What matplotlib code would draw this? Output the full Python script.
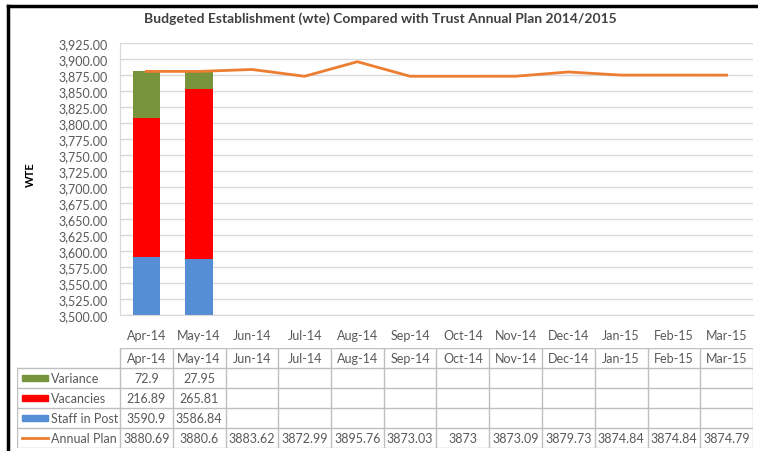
import matplotlib
matplotlib.use("Agg")
import matplotlib.pyplot as plt
from matplotlib.lines import Line2D
from matplotlib.patches import Rectangle
from matplotlib.ticker import FuncFormatter, MultipleLocator

plt.rcParams['font.family'] = ['Lato', 'DejaVu Sans']

months = ["Apr-14", "May-14", "Jun-14", "Jul-14", "Aug-14", "Sep-14",
          "Oct-14", "Nov-14", "Dec-14", "Jan-15", "Feb-15", "Mar-15"]
staff_in_post = [3590.9, 3586.84]
vacancies = [216.89, 265.81]
variance = [72.9, 27.95]
annual_plan = [3880.69, 3880.6, 3883.62, 3872.99, 3895.76, 3873.03,
               3873, 3873.09, 3879.73, 3874.84, 3874.84, 3874.79]

c_staff = "#558ED5"
c_vac = "#FF0000"
c_var = "#77933C"
c_plan = "#ED7D31"
grid_c = "#D9D9D9"
txt_c = "#404040"

W, H = 758, 452
fig = plt.figure(figsize=(W / 100, H / 100), dpi=100)

def box(l, t, r, b):
    return [l / W, 1 - b / H, (r - l) / W, (b - t) / H]

# main chart
ax = fig.add_axes(box(120, 44, 753, 316))
x = list(range(len(months)))
nb = len(staff_in_post)
bw = 0.52
ax.bar(x[:nb], staff_in_post, bw, color=c_staff, zorder=2)
ax.bar(x[:nb], vacancies, bw, bottom=staff_in_post, color=c_vac, zorder=2)
bot2 = [s + v for s, v in zip(staff_in_post, vacancies)]
ax.bar(x[:nb], variance, bw, bottom=bot2, color=c_var, zorder=2)
ax.plot(x, annual_plan, color=c_plan, lw=2, zorder=3)

ax.set_xlim(-0.5, len(months) - 0.5)
ax.set_ylim(3500, 3925)
ax.yaxis.set_major_locator(MultipleLocator(25))
ax.yaxis.set_major_formatter(FuncFormatter(lambda v, p: f"{v:,.2f}"))
ax.set_xticks(x)
ax.set_xticklabels(months)
ax.tick_params(axis="both", length=0, labelsize=9, colors="#595959")
ax.tick_params(axis="y", pad=9)
ax.tick_params(axis="x", pad=10)
ax.grid(axis="y", color=grid_c, lw=1, zorder=0)
for s in ["top", "right"]:
    ax.spines[s].set_visible(False)
for s in ["left", "bottom"]:
    ax.spines[s].set_color(grid_c)

fig.text(380 / W, 1 - 19 / H, "Budgeted Establishment (wte) Compared with Trust Annual Plan 2014/2015",
         ha="center", va="center", fontsize=10, fontweight="bold", color=txt_c)
fig.text(30 / W, 1 - 175 / H, "WTE", ha="center", va="center", rotation=90,
         fontsize=8, fontweight="bold", color="black")

# data table below
tx = fig.add_axes(box(17, 349, 753, 449))
left = -0.5 - (120 - 17) / 52.75
tx.set_xlim(left, len(months) - 0.5)
tx.set_ylim(5, 0)
tx.axis("off")
line_c = "#BFBFBF"
tx.plot([-0.5, len(months) - 0.5], [0, 0], color=line_c, lw=1)
for r in range(1, 6):
    tx.plot([left, len(months) - 0.5], [r, r], color=line_c, lw=1)
for i in range(len(months) + 1):
    tx.plot([i - 0.5, i - 0.5], [0, 5], color=line_c, lw=1)
tx.plot([left, left], [1, 5], color=line_c, lw=1)

for i, m in enumerate(months):
    tx.text(i, 0.5, m, ha="center", va="center", fontsize=9, color="#595959")

rows = [("Variance", variance, c_var, "bar"),
        ("Vacancies", vacancies, c_vac, "bar"),
        ("Staff in Post", staff_in_post, c_staff, "bar"),
        ("Annual Plan", annual_plan, c_plan, "line")]
sx0 = left + 5 / 52.75
sx1 = left + 31 / 52.75
for r, (name, vals, col, kind) in enumerate(rows, start=1):
    yc = r + 0.5
    if kind == "bar":
        tx.add_patch(Rectangle((sx0, yc - 0.15), sx1 - sx0, 0.3, color=col))
    else:
        tx.plot([sx0, sx1], [yc, yc], color=col, lw=2)
    tx.text(sx1 + 3 / 52.75, yc, name, ha="left", va="center", fontsize=9, color="#595959")
    for i, v in enumerate(vals):
        tx.text(i, yc, f"{v:g}", ha="center", va="center", fontsize=9, color="#595959")

# screenshot frame
fig.add_artist(Line2D([8 / W, 1], [1 - 7 / H, 1 - 7 / H], color="black", lw=2.5))
fig.add_artist(Line2D([8 / W, 8 / W], [0, 1 - 7 / H], color="black", lw=2.5))

fig.savefig("out.png", dpi=100)
